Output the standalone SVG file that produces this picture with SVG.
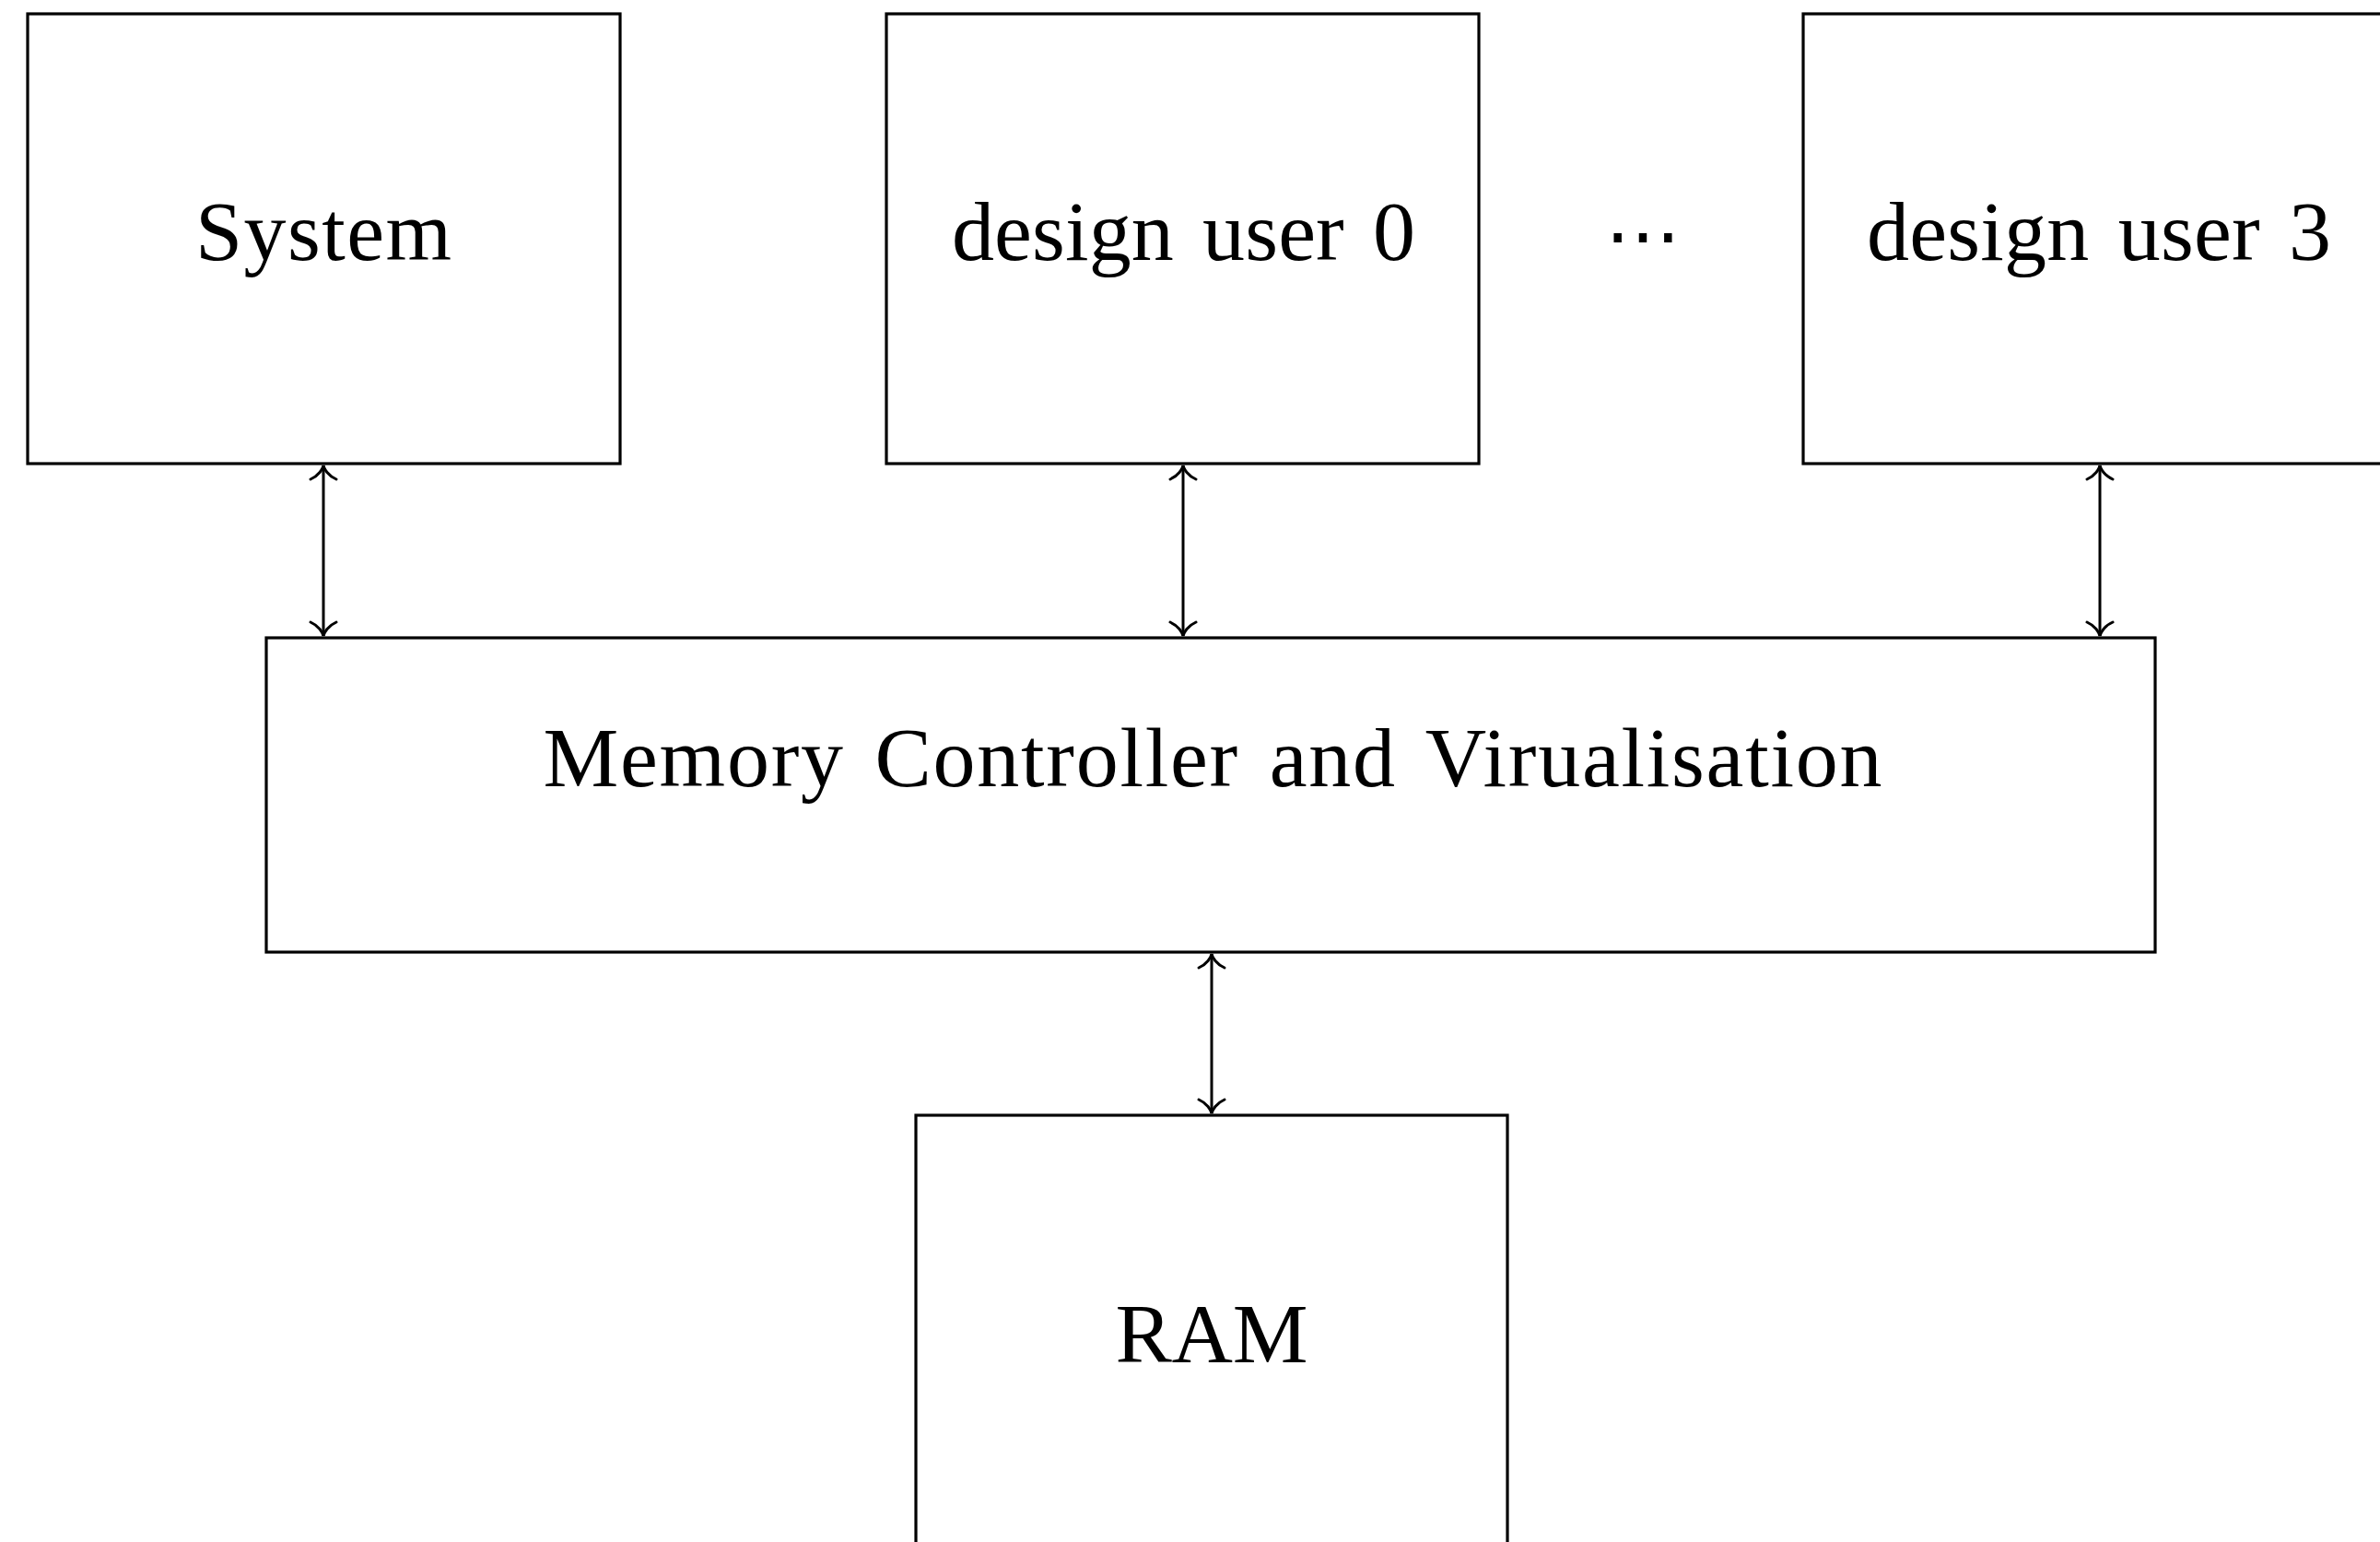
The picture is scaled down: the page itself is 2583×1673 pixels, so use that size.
<svg xmlns="http://www.w3.org/2000/svg" width="2583" height="1673" viewBox="0 0 2583 1673">
  <style>
    .box { fill: #ffffff; stroke: #000000; stroke-width: 3.2; }
    .lbl { font-family: "Liberation Serif", "DejaVu Serif", serif; font-size: 92px; fill: #000000; text-anchor: middle; word-spacing: 8px; }
    .link { fill: none; stroke: #000000; stroke-width: 3; marker-start: url(#tip); marker-end: url(#tip); }
  </style>
  <defs>
    <!-- open, curved arrow tip; tip point sits at the path end -->
    <marker id="tip" markerUnits="userSpaceOnUse" viewBox="-18 -18 22 36" refX="0" refY="0" markerWidth="22" markerHeight="36" orient="auto-start-reverse">
      <path d="M -15 -14 C -11 -5 -4 -1 0 0 C -4 1 -11 5 -15 14" fill="none" stroke="#000000" stroke-width="3" stroke-linecap="round"/>
    </marker>
  </defs>
  <rect width="2583" height="1673" fill="#ffffff"/>

  <g id="system">
    <rect class="box" x="30" y="15" width="643" height="488"/>
    <text class="lbl" x="351" y="282" textLength="278">System</text>
  </g>

  <g id="design-user-0">
    <rect class="box" x="962" y="15" width="643" height="488"/>
    <text class="lbl" x="1284.5" y="282" textLength="503">design user 0</text>
  </g>

  <g id="ellipsis">
    <text x="1783" y="284" font-family="DejaVu Serif, serif" font-size="82" text-anchor="middle" fill="#000000">⋯</text>
  </g>

  <g id="design-user-3">
    <rect class="box" x="1957" y="15" width="643" height="488"/>
    <text class="lbl" x="2278" y="282" textLength="504">design user 3</text>
  </g>

  <g id="memory-controller">
    <rect class="box" x="289" y="692" width="2050" height="341"/>
    <text class="lbl" x="1316" y="853" textLength="1453">Memory Controller and Virualisation</text>
  </g>

  <g id="ram">
    <rect class="box" x="994" y="1210" width="642" height="520"/>
    <text class="lbl" x="1315" y="1478" textLength="209">RAM</text>
  </g>

  <g id="connectors">
    <line class="link" x1="351" y1="505" x2="351" y2="690"/>
    <line class="link" x1="1284" y1="505" x2="1284" y2="690"/>
    <line class="link" x1="2279" y1="505" x2="2279" y2="690"/>
    <line class="link" x1="1315" y1="1035" x2="1315" y2="1208"/>
  </g>
</svg>
